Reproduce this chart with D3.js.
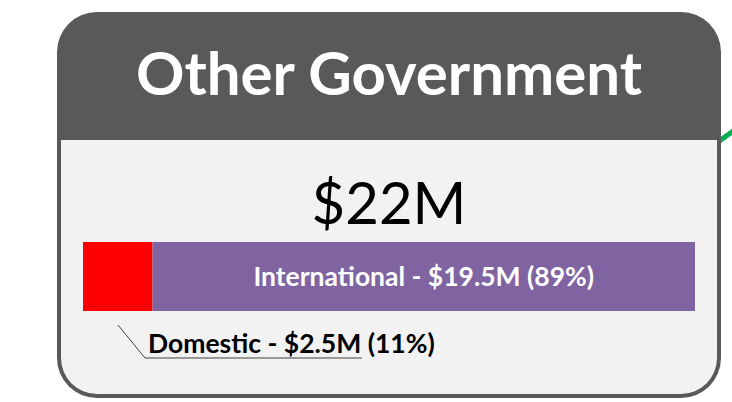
<!DOCTYPE html>
<html>
<head>
<meta charset="utf-8">
<script src="https://cdn.jsdelivr.net/npm/d3@7"></script>
<style>
  body { margin: 0; background: #fff; }
  text { font-family: Lato, 'Open Sans', sans-serif; }
</style>
</head>
<body>
<div id="chart"></div>
<script>
var title = 'Other Government'
var totalLabel = '$22M'
var categories = ['Domestic', 'International']
var values = [2.5, 19.5]
var amountLabels = ['$2.5M', '$19.5M']
var percents = [11, 89]
var colors = ['#ff0000', '#8064a2']

var width = 732
var height = 402

var card = { x: 57, y: 12, w: 664, h: 386, r: 40, border: 4, headerH: 128 }

var svg = d3.select('#chart').append('svg')
  .attr('width', width)
  .attr('height', height)

// green connector peeking in at the right edge
svg.append('line')
  .attr('x1', 718).attr('y1', 142)
  .attr('x2', 740).attr('y2', 126)
  .attr('stroke', '#00b050')
  .attr('stroke-width', 5)

// card frame
svg.append('rect')
  .attr('x', card.x)
  .attr('y', card.y)
  .attr('width', card.w)
  .attr('height', card.h)
  .attr('rx', card.r)
  .attr('fill', '#595959')

// light body, square top, rounded bottom
var bx0 = card.x + card.border
var bx1 = card.x + card.w - card.border
var by0 = card.y + card.headerH
var by1 = card.y + card.h - card.border
var br = card.r - card.border
var body = d3.path()
body.moveTo(bx0, by0)
body.lineTo(bx1, by0)
body.lineTo(bx1, by1 - br)
body.arcTo(bx1, by1, bx1 - br, by1, br)
body.lineTo(bx0 + br, by1)
body.arcTo(bx0, by1, bx0, by1 - br, br)
body.closePath()
svg.append('path')
  .attr('d', body.toString())
  .attr('fill', '#f2f2f2')

var cx = card.x + card.w / 2

svg.append('text')
  .attr('x', cx)
  .attr('y', 95)
  .attr('text-anchor', 'middle')
  .attr('fill', '#fff')
  .attr('font-weight', 'bold')
  .attr('font-size', 60)
  .text(title)

svg.append('text')
  .attr('x', cx)
  .attr('y', 224)
  .attr('text-anchor', 'middle')
  .attr('fill', '#000')
  .attr('font-size', 58)
  .text(totalLabel)

// stacked bar
var total = d3.sum(values)
var x = d3.scaleLinear()
  .domain([0, total])
  .range([83, 695])

var barY = 242
var barH = 69

var segs = []
var acc = 0
for (var i = 0; i < values.length; i++) {
  segs.push({ name: categories[i], v0: acc, v1: acc + values[i], amount: amountLabels[i], pct: percents[i], color: colors[i] })
  acc += values[i]
}

svg.selectAll('rect.seg')
  .data(segs)
  .enter().append('rect')
  .attr('class', 'seg')
  .attr('x', function (d) { return x(d.v0) })
  .attr('y', barY)
  .attr('width', function (d) { return x(d.v1) - x(d.v0) })
  .attr('height', barH)
  .attr('fill', function (d) { return d.color })

// label inside the big segment
var big = segs[1]
svg.append('text')
  .attr('x', (x(big.v0) + x(big.v1)) / 2)
  .attr('y', barY + barH / 2 + 9)
  .attr('text-anchor', 'middle')
  .attr('fill', '#fff')
  .attr('font-weight', 'bold')
  .attr('font-size', 26.5)
  .text(big.name + ' - ' + big.amount + ' (' + big.pct + '%)')

// callout for the small segment
var small = segs[0]
var lx = x(small.v0) + 35
svg.append('polyline')
  .attr('points', [[lx, 325], [145, 358], [362, 358]].map(function (p) { return p.join(',') }).join(' '))
  .attr('fill', 'none')
  .attr('stroke', '#404040')
  .attr('stroke-width', 1)

svg.append('text')
  .attr('x', 148)
  .attr('y', 353)
  .attr('fill', '#000')
  .attr('font-weight', 'bold')
  .attr('font-size', 26.5)
  .text(small.name + ' - ' + small.amount + ' (' + small.pct + '%)')
</script>
</body>
</html>
